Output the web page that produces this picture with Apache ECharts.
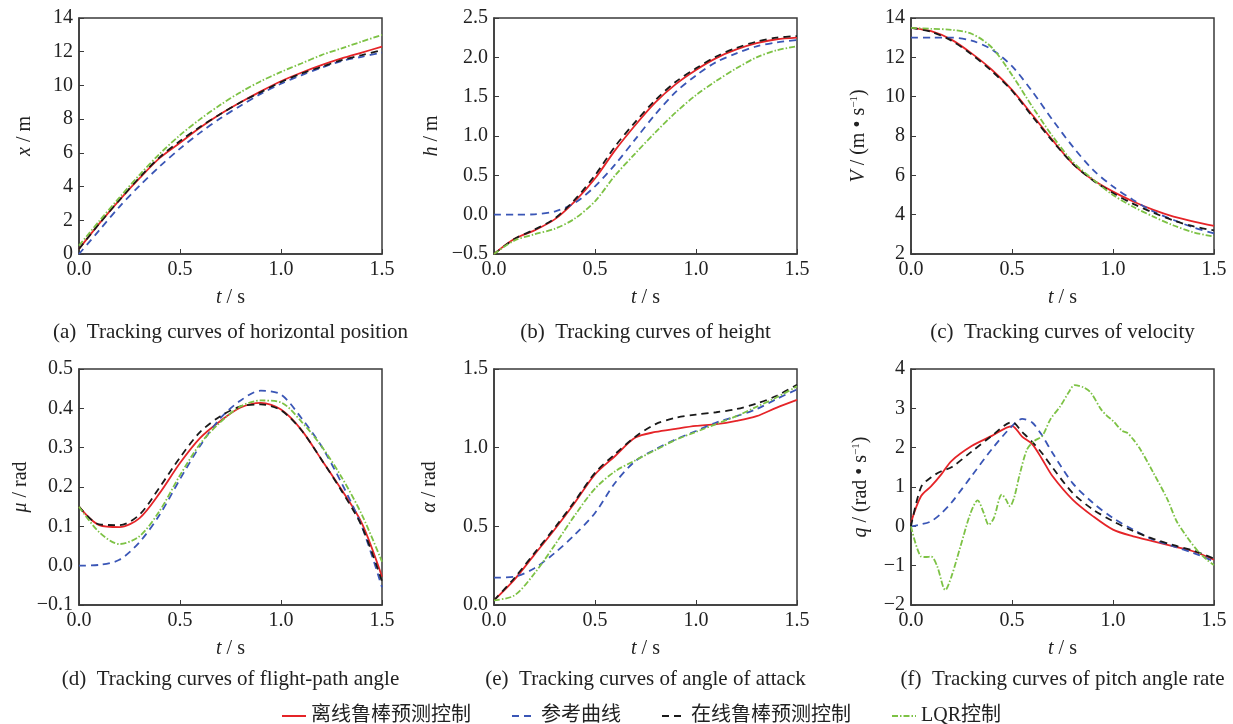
<!DOCTYPE html>
<html>
<head>
<meta charset="utf-8">
<script src="https://cdn.jsdelivr.net/npm/echarts@6/dist/echarts.min.js"></script>
<style>
  html, body { margin: 0; padding: 0; background: #fff; }
  #chart { width: 1233px; height: 724px; }
</style>
</head>
<body>
<div id="chart"></div>
<script>
// 时间轴 (s)
const tCommon = [0, 0.1, 0.2, 0.3, 0.4, 0.5, 0.6, 0.7, 0.8, 0.9, 1.0, 1.1, 1.2, 1.3, 1.4, 1.5];
const tRate = [0, 0.05, 0.1, 0.15, 0.2, 0.3, 0.4, 0.5, 0.55, 0.6, 0.65, 0.7, 0.8, 0.9, 1.0, 1.1, 1.2, 1.3, 1.4, 1.5];
const tLqr = [0, 0.05, 0.07, 0.1, 0.13, 0.17, 0.2, 0.245, 0.295, 0.33, 0.36, 0.385, 0.41, 0.45, 0.47, 0.49, 0.51,
  0.54, 0.575, 0.61, 0.65, 0.69, 0.74, 0.78, 0.81, 0.855, 0.89, 0.94, 0.97, 1.0, 1.045, 1.07, 1.1, 1.135, 1.2,
  1.27, 1.315, 1.365, 1.415, 1.465, 1.5];

const seriesNames = ['离线鲁棒预测控制', '参考曲线', '在线鲁棒预测控制', 'LQR控制'];

// (a) 水平位置 x / m
const posOffline = [0.3, 1.8, 3.2, 4.5, 5.7, 6.6, 7.5, 8.3, 9.0, 9.65, 10.25, 10.75, 11.2, 11.6, 11.95, 12.3];
const posRef = [0, 1.4, 2.8, 4.05, 5.2, 6.25, 7.2, 8.05, 8.8, 9.5, 10.1, 10.6, 11.05, 11.45, 11.7, 11.95];
const posOnline = [0.3, 1.8, 3.2, 4.55, 5.75, 6.7, 7.55, 8.3, 9.0, 9.6, 10.2, 10.7, 11.1, 11.5, 11.8, 12.1];
const posLqr = [0.5, 1.95, 3.35, 4.7, 5.95, 7.05, 8.0, 8.85, 9.6, 10.25, 10.8, 11.3, 11.8, 12.2, 12.6, 13.0];

// (b) 高度 h / m
const hOffline = [-0.5, -0.31, -0.2, -0.06, 0.17, 0.46, 0.82, 1.14, 1.43, 1.66, 1.84, 1.99, 2.1, 2.18, 2.23, 2.25];
const hRef = [0, 0, 0.005, 0.04, 0.15, 0.36, 0.64, 0.96, 1.28, 1.56, 1.77, 1.94, 2.05, 2.14, 2.19, 2.22];
const hOnline = [-0.5, -0.31, -0.19, -0.05, 0.19, 0.5, 0.87, 1.18, 1.46, 1.69, 1.86, 2.01, 2.12, 2.2, 2.25, 2.27];
const hLqr = [-0.5, -0.33, -0.25, -0.18, -0.05, 0.17, 0.5, 0.78, 1.05, 1.3, 1.52, 1.7, 1.86, 2.0, 2.09, 2.14];

// (c) 速度 V / (m·s^-1)
const vOffline = [13.5, 13.33, 12.9, 12.2, 11.37, 10.35, 9.08, 7.8, 6.6, 5.77, 5.17, 4.67, 4.24, 3.9, 3.65, 3.43];
const vRef = [13.0, 13.0, 13.0, 12.85, 12.4, 11.55, 10.27, 8.83, 7.47, 6.29, 5.43, 4.75, 4.16, 3.73, 3.34, 3.05];
const vOnline = [13.5, 13.3, 12.85, 12.15, 11.3, 10.3, 9.0, 7.75, 6.6, 5.75, 5.1, 4.55, 4.1, 3.7, 3.4, 3.2];
const vLqr = [13.5, 13.45, 13.4, 13.2, 12.5, 11.1, 9.5, 8.0, 6.7, 5.8, 5.0, 4.4, 3.9, 3.45, 3.1, 2.88];

// (d) 航迹角 μ / rad
const muOffline = [0.15, 0.103, 0.098, 0.121, 0.185, 0.261, 0.325, 0.368, 0.402, 0.414, 0.397, 0.346, 0.27, 0.193, 0.108, -0.028];
const muRef = [0, 0.002, 0.015, 0.06, 0.13, 0.22, 0.305, 0.375, 0.42, 0.445, 0.435, 0.376, 0.304, 0.21, 0.1, -0.055];
const muOnline = [0.15, 0.105, 0.103, 0.13, 0.2, 0.275, 0.34, 0.38, 0.405, 0.41, 0.395, 0.345, 0.27, 0.19, 0.1, -0.04];
const muLqr = [0.15, 0.085, 0.055, 0.075, 0.14, 0.23, 0.31, 0.365, 0.405, 0.42, 0.415, 0.367, 0.304, 0.225, 0.13, 0.01];

// (e) 攻角 α / rad
const aOffline = [0.03, 0.16, 0.32, 0.48, 0.65, 0.83, 0.947, 1.064, 1.1, 1.12, 1.138, 1.149, 1.17, 1.2, 1.255, 1.304];
const aRef = [0.174, 0.18, 0.234, 0.33, 0.447, 0.585, 0.777, 0.915, 0.99, 1.053, 1.106, 1.16, 1.2, 1.245, 1.31, 1.37];
const aOnline = [0.03, 0.17, 0.33, 0.49, 0.66, 0.84, 0.96, 1.07, 1.15, 1.19, 1.21, 1.225, 1.245, 1.28, 1.33, 1.4];
const aLqr = [0.03, 0.06, 0.2, 0.38, 0.57, 0.74, 0.85, 0.92, 0.985, 1.05, 1.1, 1.15, 1.2, 1.26, 1.32, 1.39];

// (f) 俯仰角速率 q / (rad·s^-1)
const qOffline = [0.1, 0.77, 1.02, 1.32, 1.66, 2.04, 2.3, 2.55, 2.28, 2.09, 1.7, 1.28, 0.68, 0.26, -0.085, -0.255, -0.38, -0.51, -0.64, -0.85];
const qRef = [0, 0.05, 0.13, 0.33, 0.6, 1.28, 1.96, 2.55, 2.73, 2.64, 2.3, 1.87, 1.1, 0.6, 0.21, -0.085, -0.34, -0.51, -0.68, -0.89];
const qOnline = [0, 1.0, 1.25, 1.4, 1.5, 1.9, 2.3, 2.65, 2.4, 2.15, 1.85, 1.5, 0.85, 0.43, 0.13, -0.12, -0.32, -0.48, -0.62, -0.82];
const qLqr = [0, -0.77, -0.78, -0.77, -1.02, -1.62, -1.28, -0.51, 0.34, 0.66, 0.34, 0.04, 0.21, 0.81, 0.68, 0.51, 0.72,
  1.36, 1.96, 2.17, 2.3, 2.72, 3.06, 3.4, 3.59, 3.53, 3.4, 2.98, 2.81, 2.68, 2.43, 2.38, 2.21, 1.96, 1.36,
  0.68, 0.13, -0.26, -0.6, -0.85, -0.98];

const captions = [
  '(a)  Tracking curves of horizontal position',
  '(b)  Tracking curves of height',
  '(c)  Tracking curves of velocity',
  '(d)  Tracking curves of flight-path angle',
  '(e)  Tracking curves of angle of attack',
  '(f)  Tracking curves of pitch angle rate'
];

const serif = '"Liberation Serif", "DejaVu Serif", serif';
const cjk = '"Liberation Serif", "Noto Sans CJK SC", serif';
const axisColor = '#3a3a3a';
const lineColors = ['#e52428', '#3a56b6', '#1a1a1a', '#7dc245'];
const lineTypes = ['solid', [7, 5], [7, 5], [6, 2, 1.5, 2]];

const zip = (ts, vs) => ts.map((t, i) => [t, vs[i]]);

// 每个子图：网格位置、y 轴范围、名称
const panels = [
  { left: 79, top: 18, capY: 332, yMin: 0, yMax: 14, step: 2, dec: 0, gap: 44, name: '{i|x} / m',
    data: [zip(tCommon, posOffline), zip(tCommon, posRef), zip(tCommon, posOnline), zip(tCommon, posLqr)] },
  { left: 494, top: 18, capY: 332, yMin: -0.5, yMax: 2.5, step: 0.5, dec: 1, gap: 52, name: '{i|h} / m',
    data: [zip(tCommon, hOffline), zip(tCommon, hRef), zip(tCommon, hOnline), zip(tCommon, hLqr)] },
  { left: 911, top: 18, capY: 332, yMin: 2, yMax: 14, step: 2, dec: 0, gap: 42, name: '{i|V} / (m • s{sup|−1})',
    data: [zip(tCommon, vOffline), zip(tCommon, vRef), zip(tCommon, vOnline), zip(tCommon, vLqr)] },
  { left: 79, top: 369, capY: 679, yMin: -0.1, yMax: 0.5, step: 0.1, dec: 1, gap: 48, name: '{i|μ} / rad',
    data: [zip(tCommon, muOffline), zip(tCommon, muRef), zip(tCommon, muOnline), zip(tCommon, muLqr)] },
  { left: 494, top: 369, capY: 679, yMin: 0, yMax: 1.5, step: 0.5, dec: 1, gap: 54, name: '{i|α} / rad',
    data: [zip(tCommon, aOffline), zip(tCommon, aRef), zip(tCommon, aOnline), zip(tCommon, aLqr)] },
  { left: 911, top: 369, capY: 679, yMin: -2, yMax: 4, step: 1, dec: 0, gap: 40, name: '{i|q} / (rad • s{sup|−1})',
    data: [zip(tRate, qOffline), zip(tRate, qRef), zip(tRate, qOnline), zip(tLqr, qLqr)] }
];

const plotW = 303;
const plotH = 236;

const fmt = (v, dec) => {
  const s = Math.abs(v).toFixed(dec);
  return v < -1e-9 ? '−' + s : s;
};

const grid = [];
const xAxis = [];
const yAxis = [];
const series = [];
const graphic = [];

panels.forEach((p, k) => {
  grid.push({
    left: p.left, top: p.top, width: plotW, height: plotH,
    show: true, borderColor: axisColor, borderWidth: 1.5, backgroundColor: 'transparent'
  });
  xAxis.push({
    gridIndex: k, type: 'value', min: 0, max: 1.5, interval: 0.5,
    name: '{i|t} / s', nameLocation: 'middle', nameGap: 34,
    nameTextStyle: { fontFamily: serif, fontSize: 20, color: '#222', rich: { i: { fontStyle: 'italic', fontFamily: serif, fontSize: 20 } } },
    axisLine: { onZero: false, lineStyle: { color: axisColor, width: 1.5 } },
    axisTick: { inside: true, length: 5, lineStyle: { color: axisColor } },
    axisLabel: { fontFamily: serif, fontSize: 20, color: '#222', margin: 6, formatter: v => v.toFixed(1) },
    splitLine: { show: false }
  });
  yAxis.push({
    gridIndex: k, type: 'value', min: p.yMin, max: p.yMax, interval: p.step,
    name: p.name, nameLocation: 'middle', nameGap: p.gap,
    nameTextStyle: {
      fontFamily: serif, fontSize: 20, color: '#222',
      rich: {
        i: { fontStyle: 'italic', fontFamily: serif, fontSize: 20 },
        sup: { fontFamily: serif, fontSize: 11, verticalAlign: 'top', padding: [0, 0, 8, 0] }
      }
    },
    axisLine: { onZero: false, lineStyle: { color: axisColor, width: 1.5 } },
    axisTick: { inside: true, length: 5, lineStyle: { color: axisColor } },
    axisLabel: { fontFamily: serif, fontSize: 20, color: '#222', margin: 6, formatter: v => fmt(v, p.dec) },
    splitLine: { show: false }
  });
  p.data.forEach((d, j) => {
    series.push({
      name: seriesNames[j], type: 'line', xAxisIndex: k, yAxisIndex: k,
      data: d, symbol: 'none', smooth: 0.3, z: 2 + j,
      lineStyle: { color: lineColors[j], width: 1.8, type: lineTypes[j] },
      itemStyle: { color: lineColors[j] }
    });
  });
  graphic.push({
    type: 'text', x: p.left + plotW / 2, y: p.capY,
    style: { text: captions[k], font: '21px ' + serif, fill: '#222', textAlign: 'center', textVerticalAlign: 'middle' }
  });
});

const chart = echarts.init(document.getElementById('chart'));
chart.setOption({
  backgroundColor: '#fff',
  animation: false,
  grid, xAxis, yAxis, series, graphic,
  legend: {
    data: seriesNames, left: 276, top: 701, itemWidth: 24, itemHeight: 12, itemGap: 40,
    itemStyle: { opacity: 0 },
    textStyle: { fontFamily: cjk, fontSize: 20, color: '#222' }
  }
});
</script>
</body>
</html>
